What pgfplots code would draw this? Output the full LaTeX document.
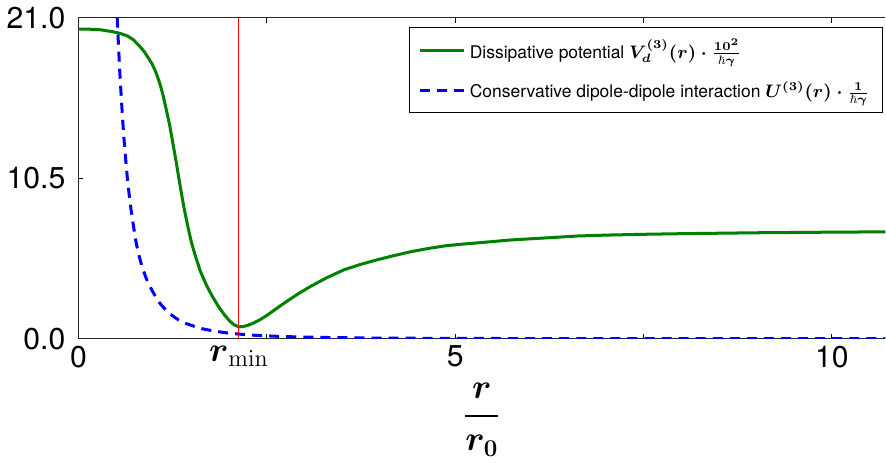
\documentclass[border=0pt]{standalone}
\usepackage[no-math]{fontspec}
\setmainfont{TeX Gyre Heros}
\usepackage{amsmath,amssymb}
\usepackage{pgfplots}
\pgfplotsset{compat=1.18}

\definecolor{mplgreen}{rgb}{0,0.5,0}

\begin{document}
\begin{tikzpicture}
\begin{axis}[
    width=402pt, height=160pt, scale only axis,
    xmin=0, xmax=10.71, ymin=0, ymax=21,
    axis x line*=box, axis y line*=left,
    axis line style={line width=0.65pt, black!85},
    xtick={0,2.5,5,7.5,10}, xticklabels={0,,5,,10},
    extra x ticks={2.13},
    extra x tick labels={$\boldsymbol{r}_{\mathrm{min}}$},
    extra x tick style={major tick length=0pt,
        xticklabel style={font=\fontsize{17}{20}\selectfont}},
    ytick={0,10.5,21}, yticklabels={0.0,10.5,21.0},
    xtick pos=both, ytick pos=left, tick align=inside,
    major tick length=2.5pt,
    tick style={black, line width=0.5pt},
    ticklabel style={font=\fontsize{15}{18}\selectfont},
    yticklabel style={xshift=-3pt},
    xlabel={$\displaystyle\boldsymbol{\frac{r}{r_0}}$},
    xlabel style={font=\fontsize{17}{20}\selectfont, yshift=-1pt},
    legend cell align=left,
    legend style={at={(rel axis cs:0.997,0.972)}, anchor=north east,
        font=\fontsize{8.7}{10}\selectfont, draw=black, line width=0.5pt,
        row sep=6pt, inner xsep=4.5pt, inner ysep=4pt},
    legend image code/.code={
        \draw[#1] (0pt,0pt) -- (14pt,0pt);
        \path (0pt,0pt) -- (22pt,0pt);},
]
\addplot[mplgreen, line width=1.5pt] coordinates {
    (0,20.25)(0.15,20.24)(0.3,20.2)(0.45,20.08)(0.55,19.97)(0.65,19.8)
    (0.73,19.55)(0.80,19.2)(0.87,18.8)(0.93,18.35)(0.98,17.95)(1.03,17.4)
    (1.08,16.7)(1.12,16.0)(1.17,14.9)(1.21,14.0)(1.25,12.9)(1.30,11.5)
    (1.35,10.0)(1.40,8.6)(1.45,7.4)(1.50,6.3)(1.56,5.3)(1.62,4.4)
    (1.70,3.5)(1.78,2.75)(1.86,2.1)(1.94,1.55)(2.01,1.15)(2.07,0.9)
    (2.13,0.78)(2.19,0.8)(2.25,0.88)(2.32,1.02)(2.40,1.22)(2.49,1.49)
    (2.58,1.8)(2.67,2.12)(2.77,2.46)(2.92,2.95)(3.08,3.42)(3.3,4.0)
    (3.53,4.52)(3.75,4.87)(3.97,5.17)(4.2,5.45)(4.41,5.69)(4.64,5.9)
    (4.86,6.07)(5.08,6.18)(5.30,6.27)(5.74,6.46)(6.19,6.59)(6.63,6.72)
    (7.03,6.78)(7.5,6.83)(8.0,6.87)(8.5,6.90)(9.0,6.93)(9.5,6.95)
    (10.0,6.97)(10.71,6.99)};
\addlegendentry{Dissipative potential {\boldmath$V_d^{(3)}(r)\cdot\frac{10^2}{\hbar\gamma}$}}
\addplot[blue, line width=1.5pt, dash pattern=on 5pt off 3.5pt, smooth, tension=0.4] coordinates {
    (0.515,21.0)(0.55,17.4)(0.60,13.4)(0.65,10.5)(0.70,8.4)(0.77,6.2)
    (0.84,4.8)(0.93,3.6)(1.07,2.4)(1.20,1.7)(1.37,1.12)(1.64,0.66)
    (1.96,0.39)(2.3,0.24)(2.7,0.15)(3.2,0.09)(4.0,0.045)(5.0,0.023)
    (6.0,0.013)(7.5,0.007)(9.0,0.004)(10.71,0.0024)};
\addlegendentry{Conservative dipole-dipole interaction {\boldmath$U^{(3)}(r)\cdot\frac{1}{\hbar\gamma}$}}
\addplot[red, line width=0.5pt, forget plot] coordinates {(2.13,0)(2.13,21)};
\end{axis}
\end{tikzpicture}
\end{document}
